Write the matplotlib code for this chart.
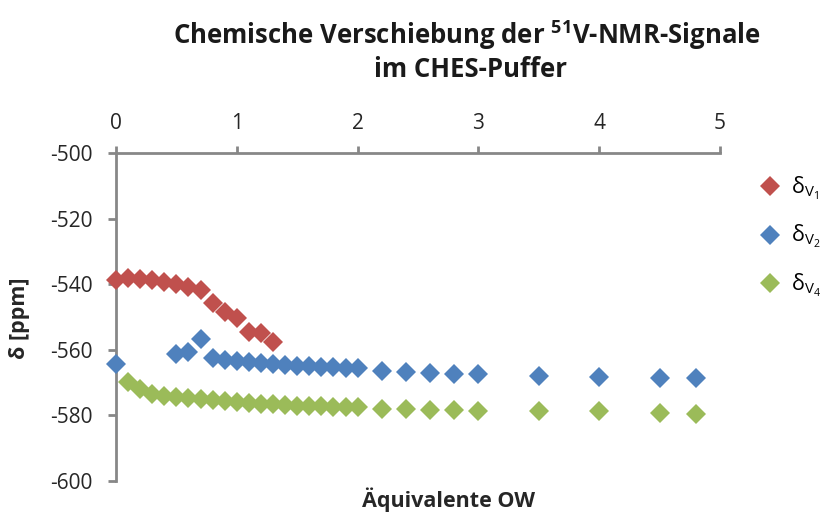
import matplotlib
matplotlib.use("Agg")
import matplotlib.pyplot as plt

plt.rcParams["font.family"] = ["Open Sans", "DejaVu Sans"]
plt.rcParams["axes.unicode_minus"] = False
plt.rcParams["mathtext.fontset"] = "custom"
plt.rcParams["mathtext.rm"] = "Open Sans"
plt.rcParams["mathtext.it"] = "Open Sans"
plt.rcParams["mathtext.bf"] = "Open Sans:bold"

# Äquivalente OW and chemical shifts (ppm)
x_v1 = [0, 0.1, 0.2, 0.3, 0.4, 0.5, 0.6, 0.7, 0.8, 0.9, 1.0, 1.1, 1.2, 1.3]
d_v1 = [-538.6, -538.2, -538.4, -538.8, -539.3, -539.8, -540.8, -541.9,
        -545.6, -548.6, -550.2, -554.6, -554.8, -557.6]

x_v2 = [0, 0.5, 0.6, 0.7, 0.8, 0.9, 1.0, 1.1, 1.2, 1.3, 1.4, 1.5, 1.6, 1.7,
        1.8, 1.9, 2.0, 2.2, 2.4, 2.6, 2.8, 3.0, 3.5, 4.0, 4.5, 4.8]
d_v2 = [-564.2, -561.4, -560.7, -556.6, -562.6, -563.1, -563.4, -563.7,
        -564.0, -564.3, -564.5, -564.8, -565.0, -565.1, -565.3, -565.4,
        -565.7, -566.5, -566.8, -567.0, -567.3, -567.5, -567.9, -568.2,
        -568.6, -568.7]

x_v4 = [0.1, 0.2, 0.3, 0.4, 0.5, 0.6, 0.7, 0.8, 0.9, 1.0, 1.1, 1.2, 1.3,
        1.4, 1.5, 1.6, 1.7, 1.8, 1.9, 2.0, 2.2, 2.4, 2.6, 2.8, 3.0, 3.5,
        4.0, 4.5, 4.8]
d_v4 = [-569.9, -572.0, -573.4, -574.0, -574.3, -574.6, -575.0, -575.4,
        -575.7, -576.0, -576.2, -576.4, -576.6, -576.8, -577.0, -577.1,
        -577.2, -577.3, -577.4, -577.5, -577.9, -578.1, -578.3, -578.5,
        -578.7, -578.8, -578.6, -579.4, -579.6]

labels = ["δ$_{\\mathrm{V}_1}$", "δ$_{\\mathrm{V}_2}$", "δ$_{\\mathrm{V}_4}$"]
colors = ["#C0504D", "#4F81BD", "#9BBB59"]
x_ticks = [0, 1, 2, 3, 4, 5]
y_ticks = [-500, -520, -540, -560, -580, -600]

fig = plt.figure(figsize=(8.22, 5.15), dpi=100)
ax = fig.add_axes([116 / 822, 1 - 481 / 515, (720 - 116) / 822, (481 - 153) / 515])

for xs, ys, c, lab in zip([x_v1, x_v2, x_v4], [d_v1, d_v2, d_v4], colors, labels):
    ax.plot(xs, ys, linestyle="none", marker="D", markersize=10.5,
            color=c, markeredgewidth=0, label=lab, clip_on=False, zorder=5)

ax.set_xlim(0, 5)
ax.set_ylim(-600, -500)
ax.set_xticks(x_ticks)
ax.set_yticks(y_ticks)

axis_grey = "#878787"
for side in ["bottom", "right"]:
    ax.spines[side].set_visible(False)
for side in ["top", "left"]:
    ax.spines[side].set_color(axis_grey)
    ax.spines[side].set_linewidth(2.0)

ax.xaxis.tick_top()
ax.tick_params(axis="x", which="major", direction="out", length=5, width=2.0,
               color=axis_grey, pad=9, labelsize=15, labelcolor="#262626")
ax.tick_params(axis="y", which="major", direction="out", length=6, width=2.0,
               color=axis_grey, pad=11, labelsize=15, labelcolor="#262626")

fig.text(20 / 822, 1 - 318 / 515, "δ [ppm]", rotation=90, ha="center",
         va="center", fontsize=15.5, fontweight="bold", color="#262626")
fig.text(448 / 822, 1 - 500 / 515, "Äquivalente OW", ha="center", va="center",
         fontsize=15.5, fontweight="bold", color="#262626")

fig.text(467 / 822, 1 - 35 / 515,
         "Chemische Verschiebung der $^{\\mathbf{51}}$V-NMR-Signale",
         ha="center", va="center", fontsize=18.5, fontweight="bold", color="#1a1a1a")
fig.text(470 / 822, 1 - 70 / 515, "im CHES-Puffer", ha="center", va="center",
         fontsize=18.5, fontweight="bold", color="#1a1a1a")

ax.legend(loc="upper left", bbox_to_anchor=(751 / 822, 1 - 166 / 515),
          bbox_transform=fig.transFigure, frameon=False, fontsize=15.5,
          handletextpad=0.45, labelspacing=1.0, handlelength=1.0,
          borderaxespad=0)

fig.savefig("out.png", dpi=100)
